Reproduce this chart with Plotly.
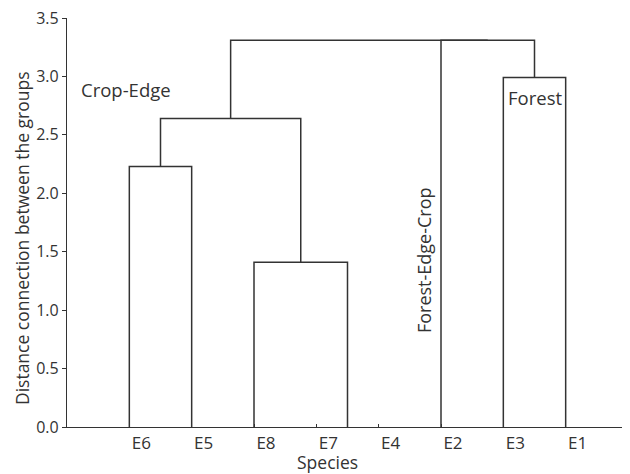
import plotly.graph_objects as go

# ---- data ----
species = ["E6", "E5", "E8", "E7", "E4", "E2", "E3", "E1"]
# merges: (left child, right child, height); children are species names or merge ids "C0".."C6"
merge_left = ["E7", "E6", "E8", "C1", "E3", "E2", "C3"]
merge_right = ["E4", "E5", "C0", "C2", "E1", "C4", "C5"]
merge_height = [0.0, 2.23, 1.41, 2.64, 2.99, 3.31, 3.31]
y_ticks = [0.0, 0.5, 1.0, 1.5, 2.0, 2.5, 3.0, 3.5]
group_labels = ["Crop-Edge", "Forest", "Forest-Edge-Crop"]
x_title = "Species"
y_title = "Distance connection between the groups"

# ---- build dendrogram segments from the linkage ----
pos = {s: i + 1 for i, s in enumerate(species)}
hgt = {s: 0.0 for s in species}
xs, ys = [], []
for k, (a, b, h) in enumerate(zip(merge_left, merge_right, merge_height)):
    xa, xb = pos[a], pos[b]
    if h > 0:
        xs += [xa, xa, xb, xb, None]
        ys += [hgt[a], h, h, hgt[b], None]
    cid = f"C{k}"
    pos[cid] = (xa + xb) / 2
    hgt[cid] = h

ink = "#333333"
font = "Open Sans, Noto Sans, sans-serif"

fig = go.Figure()
fig.add_trace(go.Scatter(x=xs, y=ys, mode="lines",
                         line=dict(color=ink, width=1.5),
                         hoverinfo="skip", showlegend=False))

fig.add_annotation(x=0.2, y=2.89, text=group_labels[0], showarrow=False,
                   xanchor="left", yanchor="middle", font=dict(size=18.5, color=ink, family=font))
fig.add_annotation(x=pos["C4"], y=2.82, text=group_labels[1], showarrow=False,
                   xanchor="center", yanchor="middle", font=dict(size=18.5, color=ink, family=font))
fig.add_annotation(x=5.73, y=1.43, text=group_labels[2], showarrow=False, textangle=-90,
                   xanchor="center", yanchor="middle", font=dict(size=18, color=ink, family=font))

# axis titles as paper-anchored text
fig.add_annotation(x=0.4635, y=-0.085, xref="paper", yref="paper", text=x_title,
                   showarrow=False, xanchor="center", yanchor="middle",
                   font=dict(size=17.5, color=ink, family=font))
fig.add_annotation(x=-0.0802, y=0.462, xref="paper", yref="paper", text=y_title,
                   showarrow=False, textangle=-90, xanchor="center", yanchor="middle",
                   font=dict(size=17.5, color=ink, family=font))

fig.update_layout(
    width=630, height=474,
    margin=dict(l=59, r=10, t=10, b=55),
    paper_bgcolor="white", plot_bgcolor="white",
    font=dict(family=font, size=16, color=ink),
    xaxis=dict(range=[0, 9], tickvals=list(range(1, len(species) + 1)), ticktext=species,
               showline=True, linecolor=ink, linewidth=1.2, ticks="inside", ticklen=3,
               tickcolor=ink, ticklabelshift=12, showgrid=False, zeroline=False,
               automargin=False, tickfont=dict(size=17)),
    yaxis=dict(range=[0, 3.5], tickvals=y_ticks, tickformat=".1f",
               showline=True, linecolor=ink, linewidth=1.2, ticks="outside", ticklen=4,
               tickcolor=ink, showgrid=False, zeroline=False, automargin=False,
               ticklabeloverflow="allow", tickfont=dict(size=16)),
)

fig.write_html("out.html")
